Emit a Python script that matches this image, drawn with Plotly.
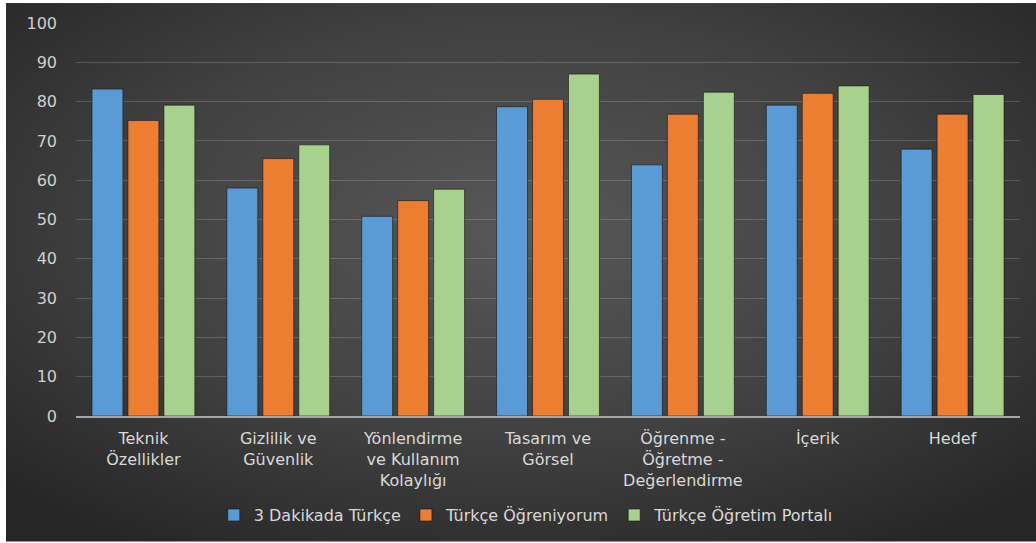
import base64
import plotly.graph_objects as go

categories = ["Teknik<br>Özellikler", "Gizlilik ve<br>Güvenlik", "Yönlendirme<br>ve Kullanım<br>Kolaylığı",
              "Tasarım ve<br>Görsel", "Öğrenme -<br>Öğretme -<br>Değerlendirme", "İçerik", "Hedef"]
series_names = ["3 Dakikada Türkçe", "Türkçe Öğreniyorum", "Türkçe Öğretim Portalı"]
dakikada = [83.2, 58.0, 50.8, 78.7, 63.9, 79.1, 67.9]
ogreniyorum = [75.2, 65.5, 54.8, 80.6, 76.8, 82.1, 76.8]
portali = [79.1, 69.0, 57.7, 87.0, 82.4, 84.0, 81.8]
y_ticks = [0, 10, 20, 30, 40, 50, 60, 70, 80, 90, 100]

colors = ["#5b9bd5", "#ed7d31", "#a9d18e"]
values = [dakikada, ogreniyorum, portali]

fig = go.Figure()
for name, vals, col in zip(series_names, values, colors):
    fig.add_trace(go.Bar(
        x=categories, y=vals, name=name,
        marker=dict(color=col, line=dict(color="rgba(20,20,20,0.6)", width=1)),
    ))

svg = ('<svg xmlns="http://www.w3.org/2000/svg" width="1030" height="540" viewBox="0 0 1030 540">'
       '<defs><radialGradient id="g" cx="50%" cy="42%" r="70%">'
       '<stop offset="0%" stop-color="#585858"/>'
       '<stop offset="55%" stop-color="#414141"/>'
       '<stop offset="100%" stop-color="#262626"/>'
       '</radialGradient></defs>'
       '<rect width="1030" height="540" fill="url(#g)"/></svg>')
src = "data:image/svg+xml;base64," + base64.b64encode(svg.encode()).decode()

L, R, T, B = 76, 1020, 23, 417
W, H = R - L, B - T
fig.add_layout_image(dict(
    source=src, xref="paper", yref="paper",
    x=(6 - L) / W, y=(B - 3) / H, sizex=1030 / W, sizey=540 / H,
    xanchor="left", yanchor="top", sizing="stretch", layer="below",
))

FONT = "DejaVu Sans"
fig.update_layout(
    width=1036, height=543,
    margin=dict(l=L, r=1036 - R, t=T, b=543 - B),
    paper_bgcolor="white", plot_bgcolor="rgba(0,0,0,0)",
    barmode="group", bargap=0.2, bargroupgap=0.14,
    font=dict(family=FONT, size=16, color="#d9d9d9"),
    legend=dict(orientation="h", x=0.477, xanchor="center", y=-0.249, yanchor="middle",
                font=dict(family=FONT, size=16, color="#d9d9d9"), bgcolor="rgba(0,0,0,0)",
                itemwidth=30, traceorder="normal"),
    showlegend=True,
)
fig.update_yaxes(range=[0, 100], tickvals=y_ticks, showgrid=True,
                 gridcolor="rgba(255,255,255,0.17)", gridwidth=1, zeroline=False,
                 showline=False, ticks="", ticklabelstandoff=18,
                 tickfont=dict(family=FONT, size=16, color="#d0d0d0"))
fig.update_xaxes(showline=True, linecolor="#a6a6a6", linewidth=1.5, ticks="",
                 tickfont=dict(family=FONT, size=16, color="#d9d9d9"), ticklabelstandoff=7)

fig.write_html("out.html", config={"displayModeBar": False},
               post_script="document.body.style.margin='0px';document.body.style.padding='0px';")
